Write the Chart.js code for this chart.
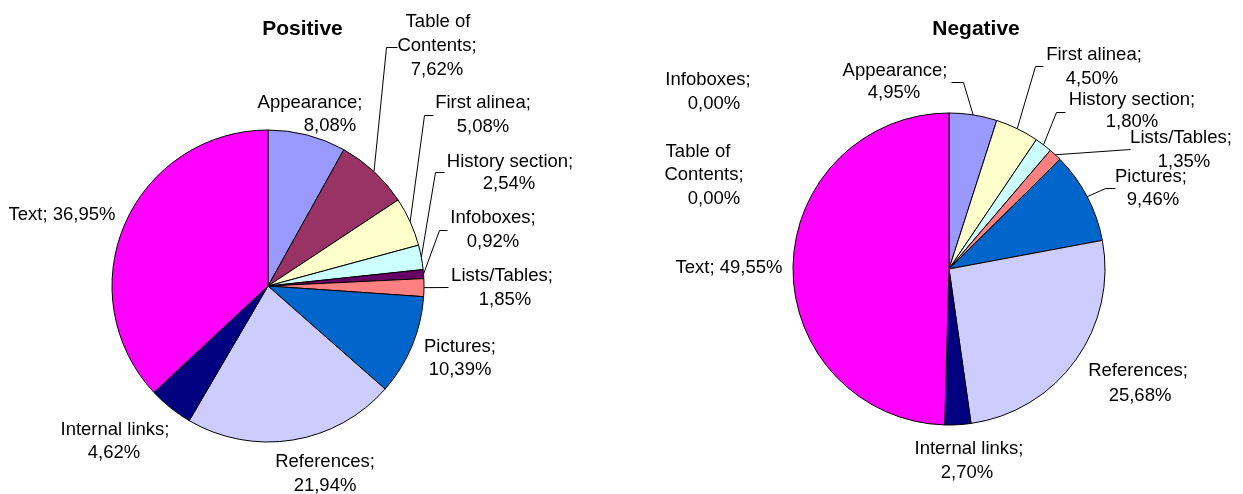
<!DOCTYPE html>
<html>
<head>
<meta charset="utf-8">
<script src="https://cdn.jsdelivr.net/npm/chart.js@4.4.1/dist/chart.umd.min.js"></script>
<style>
  html, body { margin: 0; padding: 0; background: #fff; }
  #wrap { position: relative; width: 1243px; height: 494px; overflow: hidden; }
  .pane { position: absolute; top: 0; height: 494px; }
</style>
</head>
<body>
<div id="wrap">
  <div class="pane" style="left:0;width:621px"><canvas id="positiveChart"></canvas></div>
  <div class="pane" style="left:621px;width:622px"><canvas id="negativeChart"></canvas></div>
</div>
<script>
const categories = [
  "Appearance", "Table of Contents", "First alinea", "History section",
  "Infoboxes", "Lists/Tables", "Pictures", "References",
  "Internal links", "Text"
];
const positiveValues = [8.08, 7.62, 5.08, 2.54, 0.92, 1.85, 10.39, 21.94, 4.62, 36.95];
const negativeValues = [4.95, 0.00, 4.50, 1.80, 0.00, 1.35, 9.46, 25.68, 2.70, 49.55];
const sliceColors = [
  "#9999FF", "#993366", "#FFFFCC", "#CCFFFF", "#660066",
  "#FF8080", "#0066CC", "#CCCCFF", "#000080", "#FF00FF"
];

// label placement, relative to the pie centre (one [dx, dy] per text line)
const positiveLayout = [
  { lines: [[42, -183], [62, -160]] },
  { lines: [[170, -264], [169, -240], [169, -216]], leader: [[118, -239], [129, -239]] },
  { lines: [[215, -183], [215, -159]], leader: [[156, -171], [165, -171]] },
  { lines: [[242, -124], [241, -102]], leader: [[167, -114], [176, -114]] },
  { lines: [[225, -68], [225, -44]], leader: [[171, -56], [179, -56]] },
  { lines: [[234, -10], [237, 14]], leader: [[180, 1]] },
  { lines: [[192, 61], [192, 84]] },
  { lines: [[57, 176], [57, 200]] },
  { lines: [[-153, 144], [-154, 167]] },
  { lines: [[-206, -71]] }
];
const negativeLayout = [
  { lines: [[-54, -198], [-55, -176]], leader: [[14, -187], [2, -187]] },
  { lines: [[-251, -117], [-245, -94], [-235, -70]] },
  { lines: [[145, -214], [143, -190]], leader: [[86, -203], [94, -203]] },
  { lines: [[183, -169], [183, -147]], leader: [[107, -157], [116, -157]] },
  { lines: [[-241, -189], [-235, -165]] },
  { lines: [[232, -131], [235, -107]], leader: [[181, -120]] },
  { lines: [[202, -92], [204, -69]], leader: [[156, -81], [166, -81]] },
  { lines: [[189, 102], [191, 127]] },
  { lines: [[20, 180], [18, 204]] },
  { lines: [[-220, -1]] }
];

const FONT = '"Liberation Sans", Arial, sans-serif';

const sliceLabels = {
  id: "sliceLabels",
  afterDraw(chart, args, opts) {
    const ctx = chart.ctx;
    const arcs = chart.getDatasetMeta(0).data;
    const values = chart.data.datasets[0].data;
    const cx = arcs[0].x, cy = arcs[0].y;

    ctx.save();
    ctx.fillStyle = "#000";
    ctx.textAlign = "center";
    ctx.textBaseline = "middle";

    // title
    ctx.font = "bold 21px " + FONT;
    ctx.fillText(opts.title, cx + opts.titleOffset[0], cy + opts.titleOffset[1]);

    ctx.font = "18.5px " + FONT;
    ctx.strokeStyle = "#000";
    ctx.lineWidth = 1;

    opts.layout.forEach((spec, i) => {
      const arc = arcs[i];
      const name = chart.data.labels[i];
      const val = values[i].toFixed(2).replace(".", ",") + "%";
      let lines;
      if (spec.lines.length === 1) lines = [name + "; " + val];
      else if (spec.lines.length === 2) lines = [name + ";", val];
      else {
        const w = name.split(" ");
        lines = [w.slice(0, -1).join(" "), w[w.length - 1] + ";", val];
      }
      lines.forEach((t, k) => ctx.fillText(t, cx + spec.lines[k][0], cy + spec.lines[k][1]));

      // leader line from the middle of the slice edge
      if (spec.leader) {
        const mid = (arc.startAngle + arc.endAngle) / 2;
        ctx.beginPath();
        ctx.moveTo(arc.x + Math.cos(mid) * arc.outerRadius, arc.y + Math.sin(mid) * arc.outerRadius);
        spec.leader.forEach(p => ctx.lineTo(cx + p[0] + 0.5, cy + p[1] + 0.5));
        ctx.stroke();
      }
    });
    ctx.restore();
  }
};

function makePie(id, values, layout, title, titleOffset, padding) {
  return new Chart(document.getElementById(id), {
    type: "pie",
    data: {
      labels: categories,
      datasets: [{
        data: values,
        backgroundColor: sliceColors,
        borderColor: "#000",
        borderWidth: 1
      }]
    },
    options: {
      responsive: true,
      maintainAspectRatio: false,
      animation: false,
      events: [],
      radius: 156,
      layout: { padding: padding },
      plugins: {
        legend: { display: false },
        tooltip: { enabled: false },
        title: { display: false },
        sliceLabels: { layout: layout, title: title, titleOffset: titleOffset }
      }
    },
    plugins: [sliceLabels]
  });
}

makePie("positiveChart", positiveValues, positiveLayout, "Positive", [34.5, -257],
  { left: 0, right: 85, top: 78, bottom: 0 });
makePie("negativeChart", negativeValues, negativeLayout, "Negative", [27, -240],
  { left: 34, right: 0, top: 44, bottom: 0 });
</script>
</body>
</html>
